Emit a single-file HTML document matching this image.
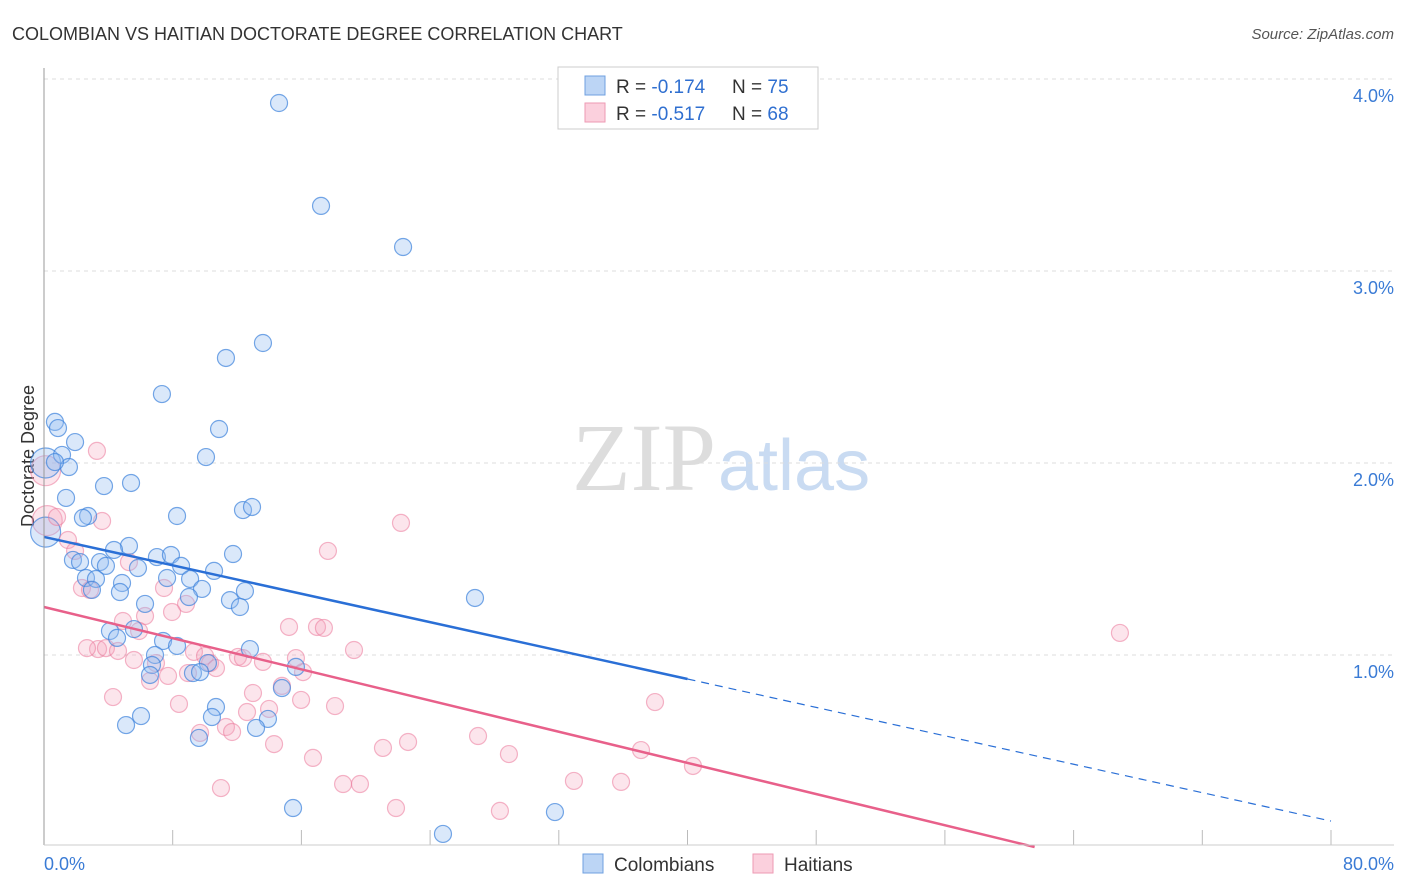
<!DOCTYPE html>
<html><head><meta charset="utf-8">
<style>
body{margin:0;background:#fff;font-family:"Liberation Sans",sans-serif;}
svg{display:block}
</style></head>
<body>
<svg id="chart" width="1406" height="892">
<text x="12" y="40" font-size="18" fill="#333">COLOMBIAN VS HAITIAN DOCTORATE DEGREE CORRELATION CHART</text>
<text x="1394" y="39" font-size="15" fill="#555" font-style="italic" text-anchor="end">Source: ZipAtlas.com</text>
<text x="716" y="490" font-size="96" fill="#ddd" font-family="Liberation Serif" text-anchor="end">ZIP</text>
<text x="718" y="490" font-size="72" fill="#c9dbf2">atlas</text>
<text x="34" y="456" font-size="18" fill="#333" text-anchor="middle" transform="rotate(-90 34 456)">Doctorate Degree</text>
<g id="grid"></g>
<g id="pts"></g>
<g id="lines"></g>
<line x1="44" y1="68" x2="44" y2="845" stroke="#999"/>
<line x1="44" y1="845" x2="1394" y2="845" stroke="#ccc"/>
<text x="44" y="870" font-size="18" fill="#3a7bd5">0.0%</text>
<text x="1394" y="870" font-size="18" fill="#3a7bd5" text-anchor="end">80.0%</text>
<g>
<rect x="558" y="67" width="260" height="62" fill="#fff" stroke="#ccc"/>
<rect x="585" y="76" width="20" height="19" fill="#bcd5f5" stroke="#6fa0e0"/>
<rect x="585" y="103" width="20" height="19" fill="#fbd0dd" stroke="#ee9ab3"/>
<text x="616" y="93" font-size="19" fill="#333">R = <tspan fill="#2f6fd0">-0.174</tspan></text>
<text x="732" y="93" font-size="19" fill="#333">N = <tspan fill="#2f6fd0">75</tspan></text>
<text x="616" y="120" font-size="19" fill="#333">R = <tspan fill="#2f6fd0">-0.517</tspan></text>
<text x="732" y="120" font-size="19" fill="#333">N = <tspan fill="#2f6fd0">68</tspan></text>
</g>
<g>
<rect x="583" y="854" width="20" height="19" fill="#bcd5f5" stroke="#6fa0e0"/>
<text x="614" y="871" font-size="19" fill="#333">Colombians</text>
<rect x="753" y="854" width="20" height="19" fill="#fbd0dd" stroke="#ee9ab3"/>
<text x="784" y="871" font-size="19" fill="#333">Haitians</text>
</g>
</svg>
<script>
const yTicks=[1,2,3,4];
const yTickLabels=["1.0%","2.0%","3.0%","4.0%"];
const xTicks=[8,16,24,32,40,48,56,64,72,80];
const bluePx=[[279,103],[321,206],[403,247],[263,343],[226,358],[162,394],[219,429],[206,457],[55,422],[58,428],[62,455],[75,442],[69,467],[66,498],[104,486],[131,483],[88,516],[83,518],[177,516],[243,510],[252,507],[233,554],[129,546],[114,550],[157,557],[171,555],[73,560],[80,562],[100,562],[106,566],[138,568],[181,566],[214,571],[167,578],[190,579],[86,578],[96,579],[122,583],[92,590],[120,592],[202,589],[189,597],[230,600],[245,591],[240,607],[145,604],[475,598],[110,631],[117,638],[134,629],[163,641],[177,646],[250,649],[155,655],[152,665],[208,663],[296,667],[150,675],[193,673],[282,688],[216,707],[141,716],[126,725],[212,717],[268,719],[199,738],[256,728],[293,808],[555,812],[443,834],[55,462],[200,672]];
const pinkPx=[[97,451],[68,540],[75,551],[102,521],[57,517],[82,588],[90,590],[129,562],[164,588],[186,604],[172,612],[145,616],[123,621],[139,631],[98,649],[87,648],[106,648],[118,651],[134,660],[156,663],[168,676],[188,673],[194,652],[205,656],[210,663],[216,668],[238,657],[243,658],[263,662],[150,681],[113,697],[179,704],[253,693],[282,686],[301,700],[303,672],[289,627],[296,658],[317,627],[324,628],[354,650],[328,551],[401,523],[335,706],[247,712],[269,709],[226,727],[232,732],[200,733],[274,744],[313,758],[343,784],[360,784],[383,748],[408,742],[478,736],[509,754],[574,781],[621,782],[641,750],[655,702],[693,766],[1120,633],[221,788],[396,808],[500,811]];
const blueX=bluePx.map(p=>+((p[0]-44)/1287*80).toFixed(2));
const blueY=bluePx.map(p=>+((847-p[1])/192).toFixed(3));
const pinkX=pinkPx.map(p=>+((p[0]-44)/1287*80).toFixed(2));
const pinkY=pinkPx.map(p=>+((847-p[1])/192).toFixed(3));
const bigBlue=[[0.1,1.64],[0.1,2.0]];
const bigPink=[[0.1,1.96],[0.2,1.7]];
const blueLine=[1.615,-0.0185];
const pinkLine=[1.25,-0.0203];
const blueSolidEnd=40;

const sx=v=>44+v/80*1287, sy=v=>847-v*192;
const NS="http://www.w3.org/2000/svg";
function mk(t,a,parent){const e=document.createElementNS(NS,t);for(const k in a)e.setAttribute(k,a[k]);document.getElementById(parent).appendChild(e);return e;}
yTicks.forEach((t,i)=>{
 const g=mk('line',{x1:44,x2:1394,y1:sy(t),y2:sy(t),stroke:'#ddd','stroke-dasharray':'4,4'},'grid');
 
 
 const tx=mk('text',{x:1394,y:sy(t)+23,'font-size':18,fill:'#3a7bd5','text-anchor':'end'},'grid');
 tx.textContent=yTickLabels[i];
 
 
});
xTicks.forEach(t=>{
 const l=mk('line',{x1:sx(t),x2:sx(t),y1:830,y2:845,stroke:'#bbb'},'grid');
 
 
});
function dot(x,y,r,blue){
 const c=mk('circle',{cx:sx(x),cy:sy(y),r:r,fill:blue?'rgba(150,190,240,0.35)':'rgba(245,160,185,0.28)',stroke:blue?'rgba(60,130,220,0.7)':'rgba(235,120,155,0.55)','stroke-width':1.2},'pts');
 
 
}
bigPink.forEach(p=>dot(p[0],p[1],15,false));
bigBlue.forEach(p=>dot(p[0],p[1],15,true));
pinkX.forEach((x,i)=>dot(x,pinkY[i],8.5,false));
blueX.forEach((x,i)=>dot(x,blueY[i],8.5,true));
const f=(l,x)=>l[0]+l[1]*x;
let b1=mk('line',{x1:sx(0),y1:sy(f(blueLine,0)),x2:sx(blueSolidEnd),y2:sy(f(blueLine,blueSolidEnd)),stroke:'#2a6fd6','stroke-width':2.5},'lines');


let b2=mk('line',{x1:sx(blueSolidEnd),y1:sy(f(blueLine,blueSolidEnd)),x2:sx(80),y2:sy(f(blueLine,80)),stroke:'#2a6fd6','stroke-width':1.2,'stroke-dasharray':'8,6'},'lines');


const pEnd=-pinkLine[0]/pinkLine[1];
let p1=mk('line',{x1:sx(0),y1:sy(f(pinkLine,0)),x2:sx(pEnd),y2:sy(0),stroke:'#e8608a','stroke-width':2.5},'lines');


</script>
</body></html>
